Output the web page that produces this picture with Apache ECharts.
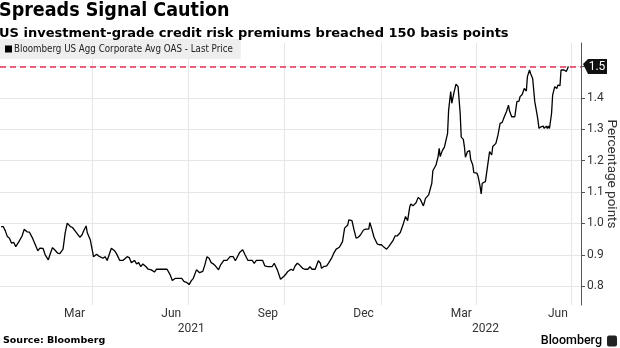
<!DOCTYPE html>
<html>
<head>
<meta charset="utf-8">
<script src="https://cdn.jsdelivr.net/npm/echarts@6/dist/echarts.min.js"></script>
<style>
  html, body { margin: 0; padding: 0; background: #fff; }
  #chart { width: 620px; height: 348px; }
</style>
</head>
<body>
<div id="chart"></div>
<script>
// Bloomberg US Agg Corporate Avg OAS, percentage points
const obsDates = [
  '2021-01-04','2021-01-06','2021-01-08','2021-01-10','2021-01-12','2021-01-14','2021-01-16','2021-01-18','2021-01-21','2021-01-24',
  '2021-01-26','2021-01-29','2021-01-31','2021-02-03','2021-02-05','2021-02-08','2021-02-10','2021-02-13','2021-02-15','2021-02-18',
  '2021-02-20','2021-02-22','2021-02-24','2021-02-27','2021-03-01','2021-03-04','2021-03-06','2021-03-08','2021-03-11','2021-03-13',
  '2021-03-16','2021-03-20','2021-03-22','2021-03-24','2021-03-26','2021-03-27','2021-03-30','2021-04-02','2021-04-05','2021-04-07',
  '2021-04-08','2021-04-11','2021-04-13','2021-04-15','2021-04-16','2021-04-19','2021-04-22','2021-04-24','2021-04-27','2021-04-30',
  '2021-05-04','2021-05-06','2021-05-08','2021-05-11','2021-05-13','2021-05-15','2021-05-17','2021-05-19','2021-05-22','2021-05-24',
  '2021-05-27','2021-05-30','2021-06-01','2021-06-06','2021-06-11','2021-06-14','2021-06-16','2021-06-19','2021-06-22','2021-06-25',
  '2021-06-27','2021-06-30','2021-07-02','2021-07-04','2021-07-06','2021-07-09','2021-07-12','2021-07-15','2021-07-17','2021-07-19',
  '2021-07-21','2021-07-23','2021-07-25','2021-07-27','2021-07-30','2021-08-01','2021-08-04','2021-08-07','2021-08-10','2021-08-13',
  '2021-08-15','2021-08-17','2021-08-19','2021-08-22','2021-08-24','2021-08-27','2021-08-31','2021-09-02','2021-09-04','2021-09-07',
  '2021-09-10','2021-09-12','2021-09-15','2021-09-19','2021-09-21','2021-09-23','2021-09-24','2021-09-27','2021-09-30','2021-10-02',
  '2021-10-04','2021-10-07','2021-10-09','2021-10-11','2021-10-13','2021-10-15','2021-10-18','2021-10-20','2021-10-23','2021-10-25',
  '2021-10-27','2021-10-30','2021-11-02','2021-11-04','2021-11-05','2021-11-07','2021-11-10','2021-11-12','2021-11-15','2021-11-17',
  '2021-11-19','2021-11-22','2021-11-23','2021-11-25','2021-11-27','2021-11-30','2021-12-01','2021-12-04','2021-12-06','2021-12-08',
  '2021-12-10','2021-12-12','2021-12-15','2021-12-17','2021-12-20','2021-12-21','2021-12-23','2021-12-25','2021-12-28','2021-12-30',
  '2022-01-01','2022-01-03','2022-01-04','2022-01-06','2022-01-08','2022-01-12','2022-01-14','2022-01-16','2022-01-19','2022-01-22',
  '2022-01-24','2022-01-26','2022-01-28','2022-01-29','2022-01-31','2022-02-03','2022-02-05','2022-02-07','2022-02-10','2022-02-12',
  '2022-02-15','2022-02-16','2022-02-18','2022-02-19','2022-02-22','2022-02-24','2022-02-25','2022-02-26','2022-02-28','2022-03-02',
  '2022-03-03','2022-03-05','2022-03-06','2022-03-08','2022-03-09','2022-03-11','2022-03-13','2022-03-14','2022-03-15','2022-03-17',
  '2022-03-18','2022-03-20','2022-03-21','2022-03-22','2022-03-24','2022-03-26','2022-03-27','2022-03-29','2022-03-30','2022-04-02',
  '2022-04-03','2022-04-05','2022-04-06','2022-04-07','2022-04-10','2022-04-12','2022-04-14','2022-04-16','2022-04-17','2022-04-20',
  '2022-04-22','2022-04-24','2022-04-26','2022-04-28','2022-04-30','2022-05-02','2022-05-03','2022-05-05','2022-05-08','2022-05-10',
  '2022-05-12','2022-05-13','2022-05-15','2022-05-17','2022-05-19','2022-05-20','2022-05-22','2022-05-23','2022-05-25','2022-05-27',
  '2022-05-29','2022-05-30','2022-05-31','2022-06-02','2022-06-03','2022-06-04','2022-06-05','2022-06-07','2022-06-08','2022-06-09',
  '2022-06-10','2022-06-12','2022-06-13','2022-06-15','2022-06-17','2022-06-18','2022-06-20','2022-06-21','2022-06-24','2022-06-26',
  '2022-06-27','2022-06-28'
];
const oasValues = [
  0.990,0.990,0.977,0.958,0.953,0.937,0.940,0.926,0.942,0.960,
  0.981,0.973,0.972,0.953,0.937,0.913,0.921,0.920,0.900,0.884,
  0.905,0.923,0.916,0.905,0.904,0.918,0.969,1.001,0.990,0.987,
  0.974,0.956,0.963,0.979,0.992,0.971,0.947,0.894,0.902,0.896,
  0.894,0.889,0.894,0.882,0.886,0.921,0.913,0.903,0.882,0.882,
  0.894,0.891,0.875,0.882,0.871,0.875,0.862,0.871,0.862,0.854,
  0.852,0.845,0.854,0.854,0.854,0.836,0.818,0.825,0.825,0.825,
  0.815,0.811,0.805,0.817,0.825,0.852,0.843,0.847,0.868,0.894,
  0.889,0.875,0.871,0.865,0.852,0.868,0.882,0.882,0.894,0.894,
  0.881,0.894,0.907,0.916,0.902,0.882,0.882,0.873,0.882,0.882,
  0.882,0.865,0.862,0.862,0.873,0.859,0.852,0.822,0.831,0.838,
  0.847,0.854,0.850,0.865,0.873,0.868,0.857,0.854,0.854,0.862,
  0.854,0.854,0.881,0.873,0.857,0.862,0.865,0.875,0.892,0.907,
  0.918,0.924,0.918,0.942,0.985,0.995,1.011,1.009,0.979,0.953,
  0.956,0.963,0.979,0.982,0.982,1.003,0.981,0.956,0.935,0.932,
  0.932,0.926,0.928,0.918,0.926,0.945,0.960,0.960,0.971,1.000,
  1.022,1.009,1.053,1.062,1.056,1.066,1.083,1.077,1.056,1.080,
  1.091,1.085,1.128,1.168,1.186,1.213,1.239,1.213,1.232,1.243,
  1.247,1.287,1.361,1.420,1.383,1.415,1.444,1.448,1.436,1.351,
  1.275,1.268,1.245,1.211,1.229,1.232,1.204,1.186,1.162,1.160,
  1.151,1.117,1.094,1.128,1.133,1.181,1.229,1.218,1.245,1.255,
  1.282,1.319,1.322,1.340,1.356,1.377,1.358,1.340,1.340,1.388,
  1.390,1.404,1.411,1.430,1.422,1.468,1.489,1.478,1.462,1.388,
  1.351,1.330,1.303,1.308,1.303,1.310,1.303,1.310,1.303,1.310,
  1.303,1.351,1.409,1.436,1.430,1.441,1.439,1.489,1.489,1.484,
  1.489,1.500
];

// Axis span and labels
const axisStart = '2021-01-03';
const axisEnd = '2022-07-10';
const monthTickDates = ['2021-03-15','2021-06-15','2021-09-15','2021-12-15','2022-03-18','2022-06-18'];
const monthTickLabels = ['Mar','Jun','Sep','Dec','Mar','Jun'];
const yearTickDates = ['2021-07-04','2022-04-10'];
const yearTickLabels = ['2021','2022'];
const gridLineDates = ['2021-04-01','2021-07-01','2021-10-01','2022-01-01','2022-04-01','2022-07-01'];
const thresholdValue = 1.5;

// Daily calendar categories across the axis span
function dayList(a, b) {
  const out = [];
  const d = new Date(a + 'T00:00:00Z');
  const end = new Date(b + 'T00:00:00Z');
  while (d <= end) {
    out.push(d.toISOString().slice(0, 10));
    d.setUTCDate(d.getUTCDate() + 1);
  }
  return out;
}
const days = dayList(axisStart, axisEnd);
const valueByDate = {};
obsDates.forEach((d, i) => { valueByDate[d] = oasValues[i]; });
const seriesData = days.map(d => (d in valueByDate ? valueByDate[d] : null));

const narrow = "'Roboto', 'Liberation Sans', sans-serif";
const condensed = "'DejaVu Sans Condensed', 'Roboto', sans-serif";
const bold = "'DejaVu Sans', sans-serif";

const chart = echarts.init(document.getElementById('chart'), null, { renderer: 'canvas' });
chart.setOption({
  animation: false,
  backgroundColor: '#ffffff',
  title: [
    {
      text: 'Spreads Signal Caution',
      subtext: 'US investment-grade credit risk premiums breached 150 basis points',
      left: -1, top: 1, padding: 0, itemGap: 6,
      textStyle: { fontFamily: condensed, fontWeight: 'bold', fontSize: 19.5, color: '#000' },
      subtextStyle: { fontFamily: bold, fontWeight: 'bold', fontSize: 13, color: '#000' }
    },
    {
      text: 'Source: Bloomberg',
      left: 3, top: 336, padding: 0,
      textStyle: { fontFamily: bold, fontWeight: 'bold', fontSize: 9.5, color: '#000' }
    },
    {
      text: '{b|Bloomberg} {i|}',
      right: 3, top: 332, padding: 0,
      textStyle: {
        rich: {
          b: { fontFamily: "'Roboto', sans-serif", fontSize: 12.5, color: '#000', fontWeight: 500 },
          i: { backgroundColor: '#222', width: 10, height: 11, borderRadius: 2 }
        }
      }
    }
  ],
  legend: {
    left: 0, top: 39,
    backgroundColor: '#eeeeee',
    padding: [5, 8, 5, 5],
    icon: 'rect', itemWidth: 7, itemHeight: 7, itemGap: 4,
    textStyle: { fontFamily: condensed, fontSize: 9.7, color: '#222', padding: [0, 0, 0, -3] },
    data: ['Bloomberg US Agg Corporate Avg OAS - Last Price']
  },
  grid: { left: 0, right: 39, top: 43, bottom: 43, containLabel: false, outerBoundsMode: 'none' },
  xAxis: [
    {
      type: 'category', data: days, boundaryGap: false,
      axisLine: { show: false }, axisTick: { show: false },
      splitLine: {
        show: true,
        interval: (i, v) => gridLineDates.includes(v),
        lineStyle: { color: '#e6e6e6', width: 1 }
      },
      axisLabel: {
        interval: (i, v) => monthTickDates.includes(v),
        formatter: v => monthTickLabels[monthTickDates.indexOf(v)] || '',
        fontFamily: narrow, fontSize: 12, color: '#333', margin: 3
      }
    },
    {
      type: 'category', data: days, boundaryGap: false, position: 'bottom', offset: 15,
      axisLine: { show: false }, axisTick: { show: false }, splitLine: { show: false },
      axisLabel: {
        interval: (i, v) => yearTickDates.includes(v),
        formatter: v => yearTickLabels[yearTickDates.indexOf(v)] || '',
        fontFamily: narrow, fontSize: 12, color: '#333', margin: 3
      }
    }
  ],
  yAxis: {
    type: 'value', position: 'right',
    min: 0.74, max: 1.575, splitNumber: 8, minInterval: 0.1, maxInterval: 0.1,
    name: 'Percentage points', nameLocation: 'middle', nameRotate: -90, nameGap: 23,
    nameMoveOverlap: false,
    nameTextStyle: { fontFamily: narrow, fontSize: 13.5, color: '#333' },
    axisLine: { show: true, lineStyle: { color: '#555', width: 1 } },
    axisTick: { show: true, inside: false, length: 4, lineStyle: { color: '#555' } },
    splitLine: { show: true, showMinLine: false, showMaxLine: false, lineStyle: { color: '#e6e6e6', width: 1 } },
    axisLabel: {
      showMinLabel: false, showMaxLabel: false, margin: 6,
      fontFamily: narrow, fontSize: 12, color: '#333',
      formatter: v => (Math.abs(v - thresholdValue) < 1e-6 ? '' : v.toFixed(1))
    }
  },
  series: [{
    name: 'Bloomberg US Agg Corporate Avg OAS - Last Price',
    type: 'line',
    data: seriesData,
    connectNulls: true,
    showSymbol: false,
    clip: false,
    lineStyle: { color: '#000', width: 1.3 },
    itemStyle: { color: '#000' },
    markLine: {
      silent: true, symbol: 'none',
      lineStyle: { color: '#e8325a', type: [6, 4], width: 1.5 },
      label: { show: false },
      data: [{ yAxis: thresholdValue }]
    },
    markPoint: {
      silent: true,
      symbol: 'path://M0,5 L5,0 L24,0 L24,15 L5,15 Z',
      symbolSize: [24, 15],
      symbolOffset: [14, 0],
      itemStyle: { color: '#111' },
      label: {
        show: true, position: 'inside', offset: [2, 0],
        color: '#fff', fontFamily: narrow, fontSize: 12,
        formatter: p => p.value.toFixed(1)
      },
      data: [{ coord: [axisEnd, thresholdValue], value: thresholdValue }]
    }
  }]
});
</script>
</body>
</html>
